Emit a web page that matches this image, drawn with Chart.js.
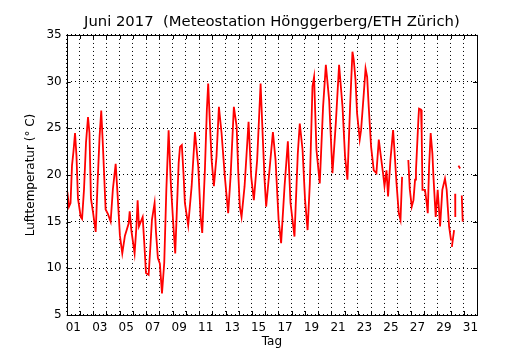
<!DOCTYPE html>
<html>
<head>
<meta charset="utf-8">
<script src="https://cdn.jsdelivr.net/npm/chart.js@4"></script>
<style>
  html, body { margin: 0; padding: 0; background: #fff; }
  #wrap { width: 530px; height: 350px; }
</style>
</head>
<body>
<div id="wrap"><canvas id="tempChart" width="530" height="350"></canvas></div>
<script>
// time in days since 1 June 00:00, temperature in deg C (null = data gap)
const days = [
  0.05, 0.17, 0.29, 0.40, 0.51, 0.63, 0.74, 0.85, 1.06, 1.16,
  1.31, 1.46, 1.61, 1.72, 1.83, 1.99, 2.19, 2.33, 2.48, 2.61,
  2.74, 2.94, 3.12, 3.32, 3.49, 3.70, 3.84, 4.02, 4.20, 4.40,
  4.68, 4.76, 4.89, 5.13, 5.27, 5.36, 5.46, 5.74, 5.87, 5.99,
  6.19, 6.33, 6.44, 6.64, 6.74, 6.89, 7.04, 7.20, 7.37, 7.53,
  7.70, 7.87, 8.08, 8.20, 8.33, 8.46, 8.56, 8.70, 8.83, 8.93,
  9.18, 9.44, 9.69, 9.80, 9.94, 10.12, 10.24, 10.44, 10.59, 10.69,
  10.82, 10.95, 11.12, 11.32, 11.50, 11.70, 11.95, 12.20, 12.38, 12.63,
  12.84, 12.97, 13.08, 13.21, 13.44, 13.74, 13.94, 14.14, 14.39, 14.65,
  14.82, 14.95, 15.07, 15.32, 15.58, 15.78, 16.01, 16.20, 16.46, 16.71,
  16.91, 17.21, 17.46, 17.61, 17.82, 18.01, 18.20, 18.37, 18.57, 18.69,
  18.87, 19.12, 19.37, 19.58, 19.83, 20.08, 20.33, 20.58, 20.84, 21.03,
  21.21, 21.41, 21.59, 21.69, 21.82, 21.94, 22.14, 22.24, 22.45, 22.58,
  22.70, 22.82, 23.00, 23.20, 23.40, 23.58, 23.71, 23.90, 24.01, 24.16,
  24.28, 24.46, 24.66, 24.76, 24.92, 25.09, 25.22, 25.34, 25.60, 25.81,
  25.92, 26.07, 26.20, 26.32, 26.39, 26.57, 26.62, 26.77, 26.82, 26.88,
  27.07, 27.20, 27.28, 27.38, 27.50, 27.63, 27.71, 27.88, 28.03, 28.21,
  28.38, 28.58, 28.71, 28.79, 28.89, 29.04, 29.07, 29.10, 29.27, 29.30,
  29.35, 29.36, 29.50, 29.60, 29.72, 29.80, 29.85, 29.92
];
const temps = [
  18.2, 16.6, 17.0, 21.0, 22.5, 24.5, 22.0, 17.5, 15.5, 15.3,
  18.5, 23.5, 26.2, 24.5, 17.5, 16.0, 13.9, 19.0, 24.0, 26.9,
  23.0, 16.3, 15.8, 15.0, 18.5, 21.2, 18.0, 13.5, 11.6, 13.5,
  14.8, 16.1, 14.0, 11.6, 14.5, 17.3, 14.5, 15.5, 12.5, 9.5,
  9.3, 12.5, 15.2, 17.0, 14.0, 11.1, 10.5, 7.3, 10.6, 18.5,
  24.8, 19.0, 14.1, 11.6, 16.5, 21.3, 23.0, 23.2, 20.0, 17.0,
  14.6, 18.8, 24.6, 23.0, 20.9, 15.5, 13.8, 20.5, 27.0, 29.8,
  25.5, 21.6, 18.8, 22.0, 27.3, 24.5, 19.8, 15.9, 19.8, 27.3,
  25.2, 20.0, 16.6, 15.5, 18.8, 25.7, 19.8, 17.3, 21.6, 29.8,
  23.8, 19.5, 16.6, 20.5, 24.6, 21.6, 15.2, 12.7, 18.8, 23.6,
  17.0, 13.4, 22.3, 25.5, 22.7, 17.3, 14.1, 19.1, 29.5, 30.5,
  22.7, 19.1, 27.3, 31.8, 28.0, 20.2, 25.5, 31.8, 27.3, 22.0,
  19.5, 27.3, 33.2, 32.3, 30.2, 26.6, 23.8, 24.8, 28.8, 31.4,
  30.5, 27.3, 23.0, 20.5, 20.2, 23.8, 22.3, 20.2, 18.8, 20.5,
  17.7, 21.6, 24.8, 22.7, 19.1, 15.9, 15.2, 19.8, null, 21.6,
  18.5, 16.6, 17.3, 19.5, 20.5, 25.9, 27.1, 27.0, 24.5, 18.4,
  18.4, 17.0, 15.9, 20.9, 24.5, 22.3, 19.8, 15.5, 18.4, 14.5,
  18.4, 19.6, 18.4, 16.6, 14.5, 13.0, null, 12.3, 14.1, null,
  18.0, 15.5, null, 21.0, 20.7, null, 17.8, 15.0
];
const dayLabels = ['01', '03', '05', '07', '09', '11', '13', '15', '17', '19',
  '21', '23', '25', '27', '29', '31'];
const tempTicks = [5, 10, 15, 20, 25, 30, 35];

Chart.defaults.font.family = 'DejaVu Sans';
Chart.defaults.color = '#000';

// black frame round the plot with short inward tick marks
const framePlugin = {
  id: 'frame',
  afterDraw: (chart) => {
    const {ctx, chartArea, scales} = chart;
    const {left, right, top, bottom} = chartArea;
    ctx.save();
    ctx.strokeStyle = '#000';
    ctx.lineWidth = 1;
    ctx.beginPath();
    for (let d = 0; d <= 31; d++) {
      const x = Math.round(scales.x.getPixelForValue(d)) + 0.5;
      ctx.moveTo(x, bottom);
      ctx.lineTo(x, bottom - 4);
      ctx.moveTo(x, top);
      ctx.lineTo(x, top + 4);
    }
    tempTicks.forEach(t => {
      const y = Math.round(scales.y.getPixelForValue(t)) + 0.5;
      ctx.moveTo(left, y);
      ctx.lineTo(left + 4, y);
      ctx.moveTo(right, y);
      ctx.lineTo(right - 4, y);
    });
    ctx.stroke();
    ctx.strokeRect(Math.round(left) + 0.5, Math.round(top) + 0.5,
      Math.round(right - left), Math.round(bottom - top));
    ctx.restore();
  }
};

new Chart(document.getElementById('tempChart'), {
  type: 'line',
  data: {
    datasets: [{
      data: days.map((d, i) => ({x: d, y: temps[i]})),
      borderColor: '#ff0000',
      borderWidth: 1.8,
      pointRadius: 0,
      spanGaps: false,
      tension: 0
    }]
  },
  options: {
    responsive: false,
    animation: false,
    layout: { padding: { left: 20, right: 53, top: 0, bottom: 0 } },
    scales: {
      x: {
        type: 'linear',
        min: 0,
        max: 31,
        afterBuildTicks: (scale) => {
          const t = [];
          for (let d = 0; d <= 31; d++) t.push({value: d});
          dayLabels.forEach((_, i) => t.push({value: 0.5 + 2 * i}));
          t.sort((a, b) => a.value - b.value);
          scale.ticks = t;
        },
        afterFit: (scale) => { scale.height = 35; },
        grid: {
          color: (c) => (c.tick && c.tick.value % 1 === 0) ? '#000' : 'rgba(0,0,0,0)',
          lineWidth: 1,
          drawTicks: false
        },
        border: { display: false, dash: [1, 3] },
        ticks: {
          autoSkip: false,
          maxRotation: 0,
          padding: 6,
          font: { size: 12 },
          callback: (v) => (v % 1 === 0) ? '' : dayLabels[Math.round((v - 0.5) / 2)]
        },
        title: {
          display: true,
          text: 'Tag',
          font: { size: 12 },
          padding: { top: 0, bottom: 1 }
        }
      },
      y: {
        min: 5,
        max: 35,
        afterBuildTicks: (scale) => { scale.ticks = tempTicks.map(v => ({value: v})); },
        afterFit: (scale) => { scale.width = 46.7; },
        grid: { color: '#000', lineWidth: 1, drawTicks: false },
        border: { display: false, dash: [1, 3] },
        ticks: { padding: 5, font: { size: 12 } },
        title: {
          display: true,
          text: 'Lufttemperatur (° C)',
          font: { size: 12 },
          padding: { top: 4, bottom: 0 }
        }
      }
    },
    plugins: {
      legend: { display: false },
      tooltip: { enabled: false },
      title: {
        display: true,
        fullSize: false,
        text: 'Juni 2017  (Meteostation Hönggerberg/ETH Zürich)',
        font: { size: 14.8, weight: 'normal' },
        color: '#000',
        padding: { top: 13, bottom: 4.2 }
      }
    }
  },
  plugins: [framePlugin]
});
</script>
</body>
</html>
